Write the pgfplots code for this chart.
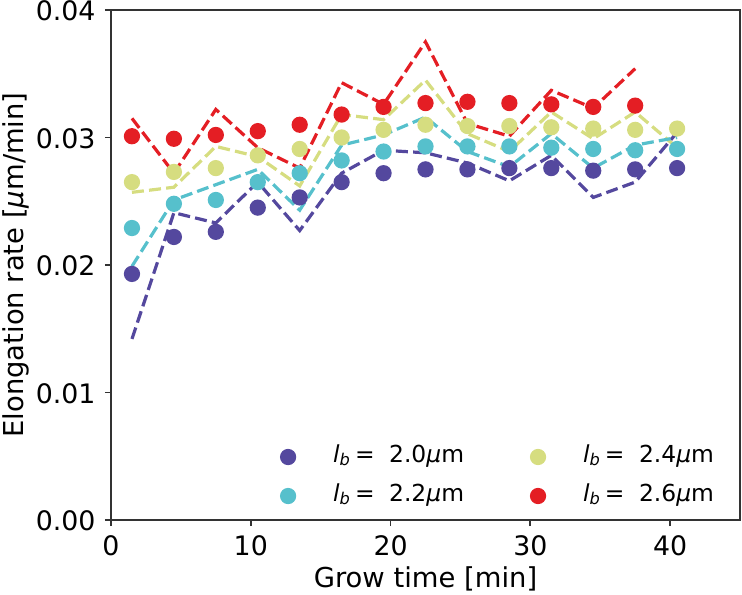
\documentclass[border=0pt]{standalone}
\usepackage{fontspec}
\setmainfont{DejaVu Sans}
\usepackage{pgfplots}
\usepackage{pgfplotstable}
\pgfplotsset{compat=1.18}
\definecolor{cP}{RGB}{84,72,158}
\definecolor{cC}{RGB}{86,192,204}
\definecolor{cY}{RGB}{214,221,128}
\definecolor{cR}{RGB}{228,30,36}
\pgfplotstableread{
x    p      pl     c      cl     y      yl     r      rl
1.5  0.0193 0.0142 0.0229 0.0199 0.0265 0.0257 0.0301 0.0315
4.5  0.0222 0.0241 0.0248 0.0251 0.0273 0.0261 0.0299 0.0272
7.5  0.0226 0.0233 0.0251 0.0263 0.0276 0.0293 0.0302 0.0322
10.5 0.0245 0.0265 0.0265 0.0275 0.0286 0.0285 0.0305 0.0292
13.5 0.0253 0.0227 0.0272 0.0243 0.0291 0.0262 0.0310 0.0276
16.5 0.0265 0.0272 0.0282 0.0294 0.0300 0.0318 0.0318 0.0343
19.5 0.0272 0.0290 0.0289 0.0302 0.0306 0.0314 0.0324 0.0326
22.5 0.0275 0.0288 0.0293 0.0316 0.0310 0.0345 0.0327 0.0375
25.5 0.0275 0.0280 0.0293 0.0289 0.0309 0.0303 0.0328 0.0311
28.5 0.0276 0.0266 0.0293 0.0277 0.0309 0.0289 0.0327 0.0301
31.5 0.0276 0.0286 0.0292 0.0303 0.0308 0.0320 0.0326 0.0337
34.5 0.0274 0.0253 0.0291 0.0276 0.0307 0.0299 0.0324 0.0323
37.5 0.0275 0.0265 0.0290 0.0294 0.0306 0.0320 0.0325 0.0354
40.5 0.0276 0.0304 0.0291 0.0300 0.0307 0.0292 nan    nan
}\data
\newcommand{\lb}[1]{\textit{l}\raisebox{-0.3ex}{\fontsize{8.1}{9}\selectfont\textit{b}}\hspace{0.22em}=\hspace{0.62em}#1\textit{μ}m}
\begin{document}
\fontsize{13.7}{16}\selectfont
\begin{tikzpicture}
\useasboundingbox (-55.5pt,-37pt) rectangle (315.5pt,260pt);
\begin{axis}[
  scale only axis, width=314.5pt, height=255pt,
  at={(0pt,0pt)}, anchor=south west,
  xmin=0, xmax=45, ymin=0, ymax=0.04,
  xtick={0,10,20,30,40}, ytick={0,0.01,0.02,0.03,0.04},
  scaled y ticks=false,
  yticklabel style={/pgf/number format/fixed, /pgf/number format/fixed zerofill, /pgf/number format/precision=2, yshift=-0.6pt},
  /pgf/number format/assume math mode=true,
  tick label style={font=\fontsize{13.4}{16}\selectfont},
  tick align=outside, xtick pos=bottom, ytick pos=left, major tick length=3pt,
  axis line style={line width=0.9pt, black!80},
  every tick/.style={black!80, line width=0.9pt},
  xlabel={Grow time [min]},
  ylabel={Elongation rate [\textit{μ}m/min]},
  xlabel style={at={(axis description cs:0.5,-0.1314)}, anchor=base, font=\fontsize{13.7}{16}\selectfont},
  ylabel style={at={(axis description cs:-0.1399,0.5)}, anchor=base, font=\fontsize{13.7}{16}\selectfont},
  legend columns=2,
  legend cell align=left,
  legend style={draw=none, fill=none, inner sep=0pt, outer sep=0pt,
    at={(rel axis cs:1,0)}, anchor=south east, xshift=-11pt, yshift=4.5pt,
    font=\fontsize{11.7}{14}\selectfont,
    nodes={inner sep=2pt, text height=8pt, text depth=3pt},
    row sep=4.5pt,
    /tikz/every even column/.append style={column sep=29pt}},
  legend image code/.code={\path[draw=none, fill=none] (-6pt,-3pt) rectangle (20.5pt,3pt); \draw[#1] plot coordinates {(0pt,0pt)};},
  every axis plot/.append style={line width=1.6pt},
]
% points (legend is filled row-wise: 2.0, 2.4 / 2.2, 2.6)
\addplot[only marks, mark=*, mark size=3.25pt, cP, mark options={draw=none, fill=cP}] table[x=x,y=p]{\data};
\addlegendentry{\lb{2.0}}
\addplot[dashed, dash pattern=on 6pt off 2.6pt, cP, forget plot] table[x=x,y=pl]{\data};
\addplot[only marks, mark=*, mark size=3.25pt, cY, mark options={draw=none, fill=cY}] table[x=x,y=y]{\data};
\addlegendentry{\lb{2.4}}
\addplot[dashed, dash pattern=on 6pt off 2.6pt, cY, forget plot] table[x=x,y=yl]{\data};
\addplot[only marks, mark=*, mark size=3.25pt, cC, mark options={draw=none, fill=cC}] table[x=x,y=c]{\data};
\addlegendentry{\lb{2.2}}
\addplot[dashed, dash pattern=on 6pt off 2.6pt, cC, forget plot] table[x=x,y=cl]{\data};
\addplot[only marks, mark=*, mark size=3.25pt, cR, mark options={draw=none, fill=cR}] table[x=x,y=r]{\data};
\addlegendentry{\lb{2.6}}
\addplot[dashed, dash pattern=on 6pt off 2.6pt, cR, forget plot] table[x=x,y=rl]{\data};
\end{axis}
\end{tikzpicture}
\end{document}
